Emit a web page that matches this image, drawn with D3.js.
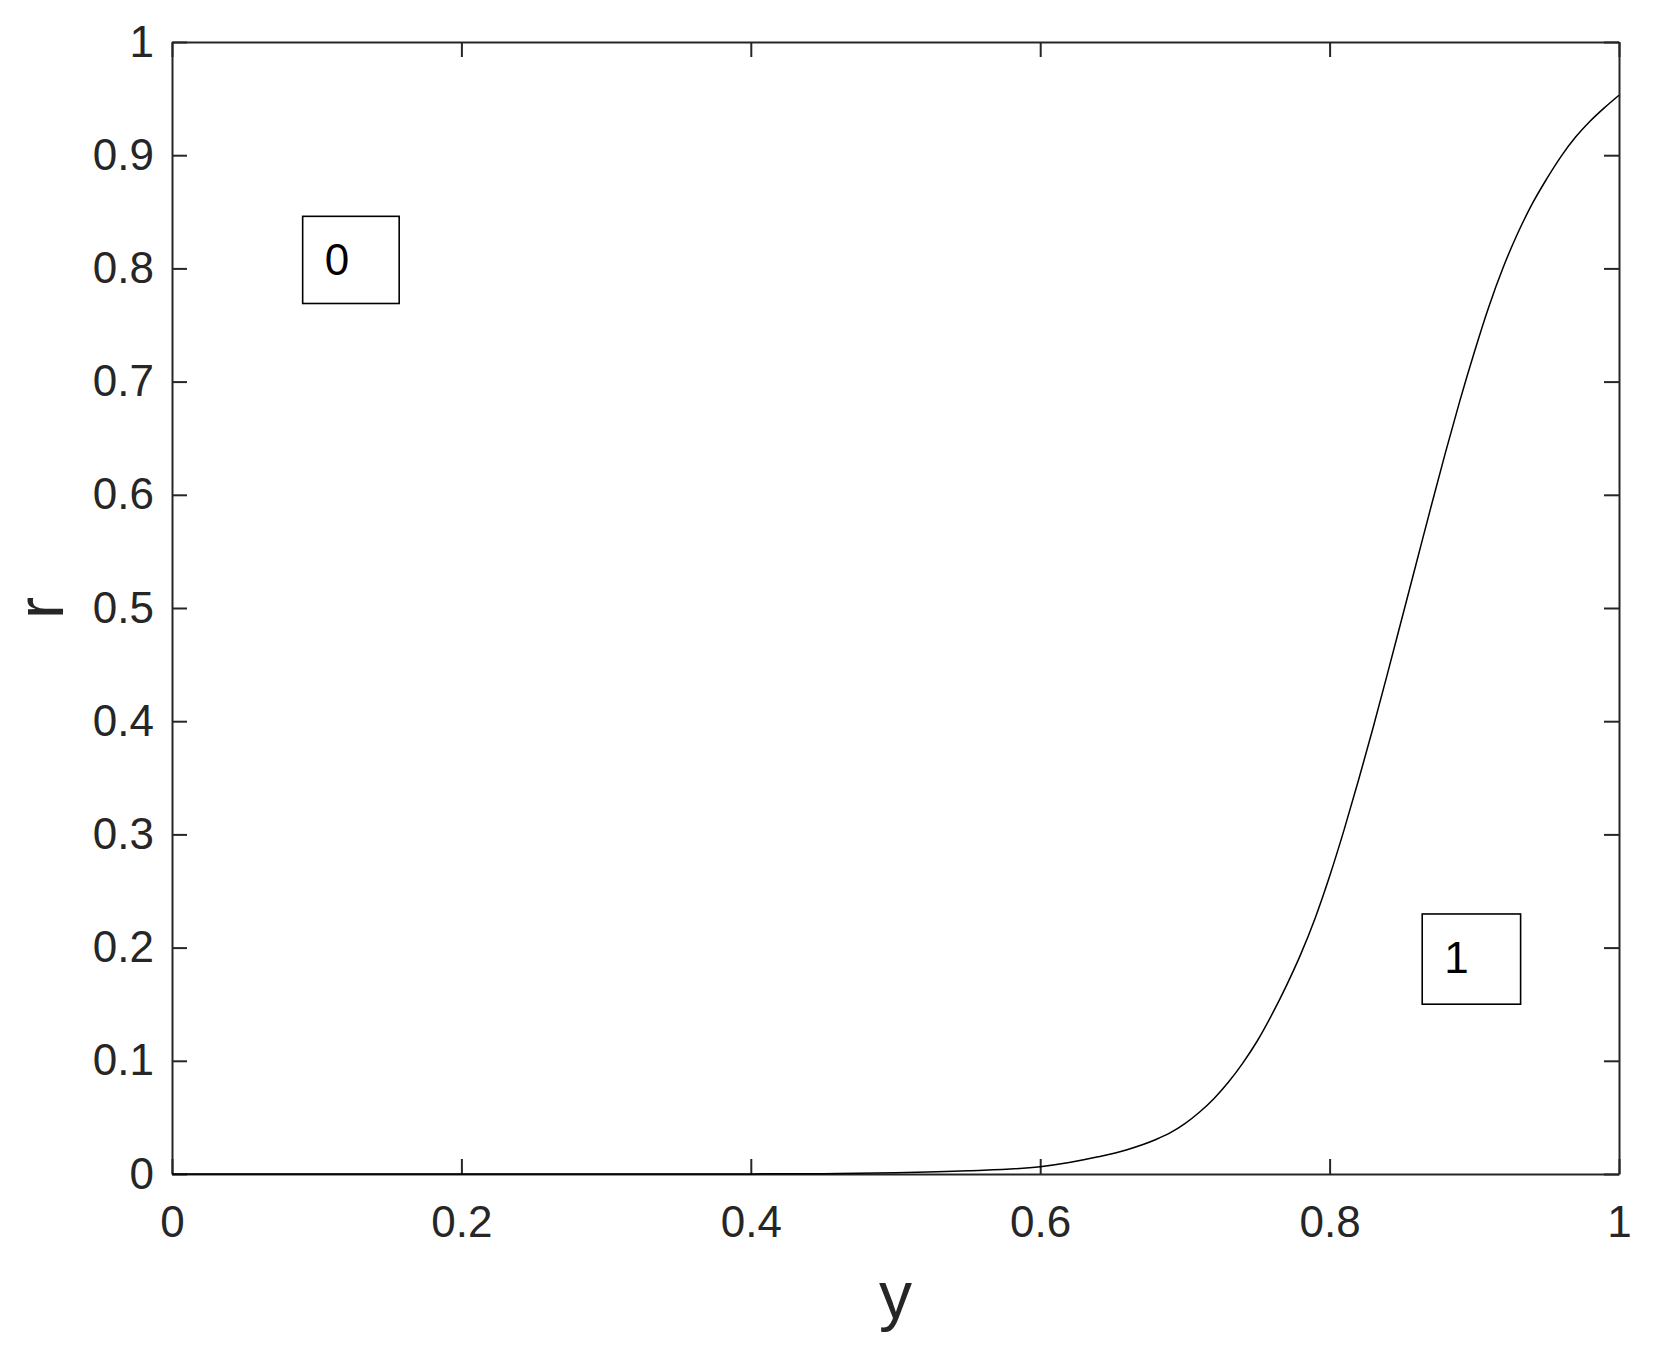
<!DOCTYPE html>
<html>
<head>
<meta charset="utf-8">
<script src="https://cdn.jsdelivr.net/npm/d3@7"></script>
<style>
  body { margin: 0; background: #fff; }
  svg { display: block; font-family: "Liberation Sans", Arial, sans-serif; }
</style>
</head>
<body>
<div id="chart"></div>
<script>
// curve: r as a function of y
const yVals = [0, 0.1, 0.2, 0.3, 0.4, 0.45, 0.5, 0.55, 0.6, 0.62, 0.64, 0.66, 0.68, 0.69, 0.7,
               0.71, 0.72, 0.73, 0.74, 0.75, 0.76, 0.77, 0.78, 0.79, 0.8, 0.81, 0.82, 0.83, 0.84,
               0.85, 0.86, 0.87, 0.88, 0.89, 0.9, 0.91, 0.92, 0.93, 0.94, 0.95, 0.96, 0.97, 0.98,
               0.99, 1.0];
const rVals = [0, 0, 0, 0, 0.0001, 0.0003, 0.001, 0.0028, 0.0065, 0.0102, 0.0152, 0.0215, 0.0305, 0.0365, 0.0445,
               0.0545, 0.0665, 0.081, 0.098, 0.1175, 0.1405, 0.166, 0.194, 0.226, 0.263, 0.304, 0.348, 0.394, 0.442,
               0.491, 0.540, 0.589, 0.637, 0.683, 0.726, 0.766, 0.801, 0.831, 0.857, 0.879, 0.899, 0.916, 0.930,
               0.942, 0.953];

const xTicks = [0, 0.2, 0.4, 0.6, 0.8, 1];
const yTicks = [0, 0.1, 0.2, 0.3, 0.4, 0.5, 0.6, 0.7, 0.8, 0.9, 1];

// boxed labels, in data units: [x0, x1], [r top, r bottom]
const boxLabels = ["0", "1"];
const boxX = [[0.0903, 0.157], [0.864, 0.932]];
const boxR = [[0.846, 0.769], [0.2297, 0.150]];

const data = yVals.map((v, i) => ({ y: v, r: rVals[i] }));

const margin = {top: 42, right: 39, bottom: 182, left: 172},
      width = 1658 - margin.left - margin.right,
      height = 1356 - margin.top - margin.bottom;

const svg = d3.select("#chart")
              .append("svg")
              .attr("width", 1658)
              .attr("height", 1356);

const g = svg.append("g")
             .attr("transform", `translate(${margin.left},${margin.top})`);

const xScale = d3.scaleLinear().domain([0, 1]).range([0, width]);
const yScale = d3.scaleLinear().domain([0, 1]).range([height, 0]);

const axisColor = "#262626";
const tickFmt = d => d === 0 || d === 1 ? d3.format("d")(d) : d3.format(".1f")(d);

// bottom axis with labels
const xAxis = g.append("g")
   .attr("transform", `translate(0,${height})`)
   .call(d3.axisBottom(xScale).tickValues(xTicks).tickFormat(tickFmt)
           .tickSizeInner(-15).tickSizeOuter(0).tickPadding(32));

// left axis with labels
const yAxis = g.append("g")
   .call(d3.axisLeft(yScale).tickValues(yTicks).tickFormat(tickFmt)
           .tickSizeInner(-15).tickSizeOuter(0).tickPadding(18));

// top and right: ticks only
const topAxis = g.append("g")
   .call(d3.axisTop(xScale).tickValues(xTicks).tickFormat("")
           .tickSizeInner(-15).tickSizeOuter(0));

const rightAxis = g.append("g")
   .attr("transform", `translate(${width},0)`)
   .call(d3.axisRight(yScale).tickValues(yTicks).tickFormat("")
           .tickSizeInner(-15).tickSizeOuter(0));

[xAxis, yAxis, topAxis, rightAxis].forEach(a => {
    a.select(".domain").attr("stroke", axisColor).attr("stroke-width", 2);
    a.selectAll(".tick line").attr("stroke", axisColor).attr("stroke-width", 2);
    a.selectAll(".tick text")
     .attr("fill", axisColor)
     .style("font-size", "44px")
     .style("font-family", "'Liberation Sans', Arial, sans-serif");
});

// the curve
const line = d3.line()
               .x(d => xScale(d.y))
               .y(d => yScale(d.r))
               .curve(d3.curveMonotoneX);

g.append("path")
 .datum(data)
 .attr("fill", "none")
 .attr("stroke", "#000")
 .attr("stroke-width", 1.5)
 .attr("d", line);

// boxed annotations
boxLabels.forEach((lab, i) => {
    const x0 = xScale(boxX[i][0]), x1 = xScale(boxX[i][1]);
    const yTop = yScale(boxR[i][0]), yBot = yScale(boxR[i][1]);
    g.append("rect")
     .attr("x", x0)
     .attr("y", yTop)
     .attr("width", x1 - x0)
     .attr("height", yBot - yTop)
     .attr("fill", "white")
     .attr("stroke", "#000")
     .attr("stroke-width", 1.6);
    g.append("text")
     .attr("x", x0 + 22)
     .attr("y", yTop + 59)
     .attr("fill", "#000")
     .style("font-size", "44px")
     .text(lab);
});

// axis labels
g.append("text")
 .attr("x", width / 2)
 .attr("y", height + 144)
 .attr("text-anchor", "middle")
 .attr("fill", axisColor)
 .style("font-size", "66px")
 .text("y");

g.append("text")
 .attr("transform", "rotate(-90)")
 .attr("x", -height / 2)
 .attr("y", -109)
 .attr("text-anchor", "middle")
 .attr("fill", axisColor)
 .style("font-size", "66px")
 .text("r");
</script>
</body>
</html>
